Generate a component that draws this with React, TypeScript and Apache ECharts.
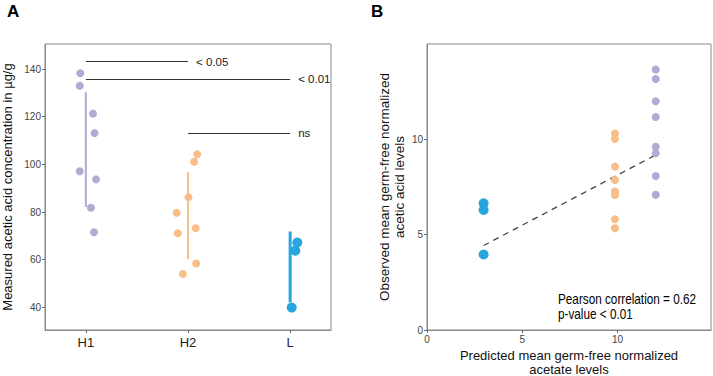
import React, { useEffect, useRef } from "react";
import * as echarts from "echarts";

// ---------- Panel A data ----------
const groups = ["H1", "H2", "L"];
const h1Values = [138.2, 133.0, 121.3, 113.1, 97.1, 93.7, 81.8, 71.5];
const h1Jitter = [-0.055, -0.06, 0.07, 0.085, -0.06, 0.1, 0.05, 0.08];
const h2Values = [104.2, 101.1, 86.2, 79.7, 71.1, 73.2, 58.4, 54.0];
const h2Jitter = [0.09, 0.06, 0.005, -0.11, -0.1, 0.075, 0.08, -0.05];
const lValues = [67.2, 63.8, 39.9];
const lJitter = [0.07, 0.05, 0.015];
const yTicksA = [40, 60, 80, 100, 120, 140];
const sigLabels = ["< 0.05", "< 0.01", "ns"];
const sigLevels = [143.1, 135.8, 113.1];
const sigFrom = [1, 1, 2];
const sigTo = [2, 3, 3];

// ---------- Panel B data ----------
const predictedL = 2.97;
const predictedH2 = 9.86;
const predictedH1 = 12.0;
const observedL = [6.65, 6.3, 3.96];
const observedH2 = [10.31, 10.02, 8.57, 7.87, 7.26, 7.08, 5.81, 5.34];
const observedH1 = [13.66, 13.16, 12.0, 11.17, 9.61, 9.27, 8.08, 7.09];
const fitX = [2.97, 12.0];
const fitY = [4.43, 9.18];
const ticksB = [0, 5, 10];

const PURPLE = "#b5a8d4";
const ORANGE = "#f9bd87";
const BLUE = "#27a5de";
const FONT = "'Liberation Sans', Arial, sans-serif";

function meanSd(v: number[]) {
  const m = v.reduce((a, b) => a + b, 0) / v.length;
  const sd = Math.sqrt(v.reduce((a, b) => a + (b - m) * (b - m), 0) / (v.length - 1));
  return [m - sd, m + sd];
}

export default function App() {
  const ref = useRef<HTMLDivElement>(null);
  useEffect(() => {
    document.body.style.margin = "0";
    const chart = echarts.init(ref.current!, undefined, { renderer: "svg" });
    const groupData = [
      { vals: h1Values, jit: h1Jitter, color: PURPLE, size: 8, lw: 2 },
      { vals: h2Values, jit: h2Jitter, color: ORANGE, size: 8, lw: 2 },
      { vals: lValues, jit: lJitter, color: BLUE, size: 10, lw: 3 },
    ];
    const series: any[] = [];
    groupData.forEach((g, i) => {
      const r = meanSd(g.vals);
      series.push({
        type: "line",
        xAxisIndex: 0,
        yAxisIndex: 0,
        data: [[i + 1, r[0]], [i + 1, r[1]]],
        symbol: "none",
        lineStyle: { color: g.color, width: g.lw },
        silent: true,
      });
      series.push({
        type: "scatter",
        xAxisIndex: 0,
        yAxisIndex: 0,
        data: g.vals.map((v, k) => [i + 1 + g.jit[k], v]),
        symbolSize: g.size,
        itemStyle: { color: g.color, opacity: 1 },
      });
    });
    series.push({
      type: "line",
      xAxisIndex: 0,
      yAxisIndex: 0,
      data: [],
      markLine: {
        silent: true,
        symbol: "none",
        lineStyle: { color: "#333", width: 1.2, type: "solid" },
        label: { show: true, position: "end", color: "#222", fontSize: 11.5, fontFamily: FONT, distance: 8 },
        data: sigLabels.map((lab, k) => [
          { coord: [sigFrom[k], sigLevels[k]], label: { formatter: lab } },
          { coord: [sigTo[k], sigLevels[k]] },
        ]),
      },
    });
    // Panel B
    series.push({
      type: "line",
      xAxisIndex: 1,
      yAxisIndex: 1,
      data: fitX.map((x, k) => [x, fitY[k]]),
      symbol: "none",
      lineStyle: { color: "#444", width: 1.3, type: [6, 5] },
      z: 1,
    });
    const bGroups = [
      { x: predictedL, vals: observedL, color: BLUE, size: 10 },
      { x: predictedH2, vals: observedH2, color: ORANGE, size: 8 },
      { x: predictedH1, vals: observedH1, color: PURPLE, size: 8 },
    ];
    bGroups.forEach((g) => {
      series.push({
        type: "scatter",
        xAxisIndex: 1,
        yAxisIndex: 1,
        data: g.vals.map((v) => [g.x, v]),
        symbolSize: g.size,
        itemStyle: { color: g.color, opacity: 1 },
        z: 3,
      });
    });

    const axisCommon = {
      splitLine: { show: false },
      axisLine: { show: true, onZero: false, lineStyle: { color: "#888", width: 1 } },
    };

    chart.setOption({
      animation: false,
      textStyle: { fontFamily: FONT },
      grid: [
        { left: 45, top: 44, width: 286, height: 286, show: true, borderColor: "#888", borderWidth: 1, containLabel: false, outerBoundsMode: "none" },
        { left: 427, top: 44, width: 284, height: 286, show: true, borderColor: "#888", borderWidth: 1, containLabel: false, outerBoundsMode: "none" },
      ],
      xAxis: [
        {
          type: "value",
          gridIndex: 0,
          min: 0.6,
          max: 3.4,
          ...axisCommon,
          axisTick: { show: true, length: 3, lineStyle: { color: "#666" }, customValues: [1, 2, 3] },
          axisLabel: {
            customValues: [1, 2, 3],
            formatter: (v: number) => groups[Math.round(v) - 1],
            color: "#222",
            fontSize: 13,
            margin: 6,
          },
        },
        {
          type: "value",
          gridIndex: 1,
          min: 0,
          max: 14.9,
          ...axisCommon,
          axisTick: { show: true, length: 3, lineStyle: { color: "#666" }, customValues: ticksB },
          axisLabel: { customValues: ticksB, color: "#444", fontSize: 10, margin: 4 },
          name: "Predicted mean germ-free normalized\nacetate levels",
          nameLocation: "middle",
          nameGap: 10,
          nameTextStyle: { fontSize: 13, color: "#111", lineHeight: 14, verticalAlign: "top" },
        },
      ],
      yAxis: [
        {
          type: "value",
          gridIndex: 0,
          min: 30.5,
          max: 150.5,
          ...axisCommon,
          axisTick: { show: true, length: 3, lineStyle: { color: "#666" }, customValues: yTicksA },
          axisLabel: { customValues: yTicksA, color: "#444", fontSize: 10, margin: 4 },
          name: "Measured acetic acid concentration in µg/g",
          nameLocation: "middle",
          nameGap: 31,
          nameTextStyle: { fontSize: 13, color: "#111" },
        },
        {
          type: "value",
          gridIndex: 1,
          min: 0,
          max: 15,
          ...axisCommon,
          axisTick: { show: true, length: 3, lineStyle: { color: "#666" }, customValues: ticksB },
          axisLabel: { customValues: ticksB, color: "#444", fontSize: 10, margin: 4 },
          name: "Observed mean germ-free normalized\nacetic acid levels",
          nameLocation: "middle",
          nameGap: 20,
          nameTextStyle: { fontSize: 13.5, color: "#111", lineHeight: 15 },
        },
      ],
      graphic: [
        { type: "text", left: 7, top: 3, style: { text: "A", font: `bold 17px ${FONT}`, fill: "#000" } },
        { type: "text", left: 371, top: 3, style: { text: "B", font: `bold 17px ${FONT}`, fill: "#000" } },
        {
          type: "text",
          x: 558,
          y: 291,
          scaleX: 0.84,
          style: {
            x: 0,
            y: 0,
            text: "Pearson correlation = 0.62\np-value < 0.01",
            font: `14px ${FONT}`,
            lineHeight: 15.5,
            verticalAlign: "top",
            align: "left",
            fill: "#000",
          },
        },
      ],
      series,
    });
    return () => chart.dispose();
  }, []);
  return <div ref={ref} style={{ width: 713, height: 376 }} />;
}
